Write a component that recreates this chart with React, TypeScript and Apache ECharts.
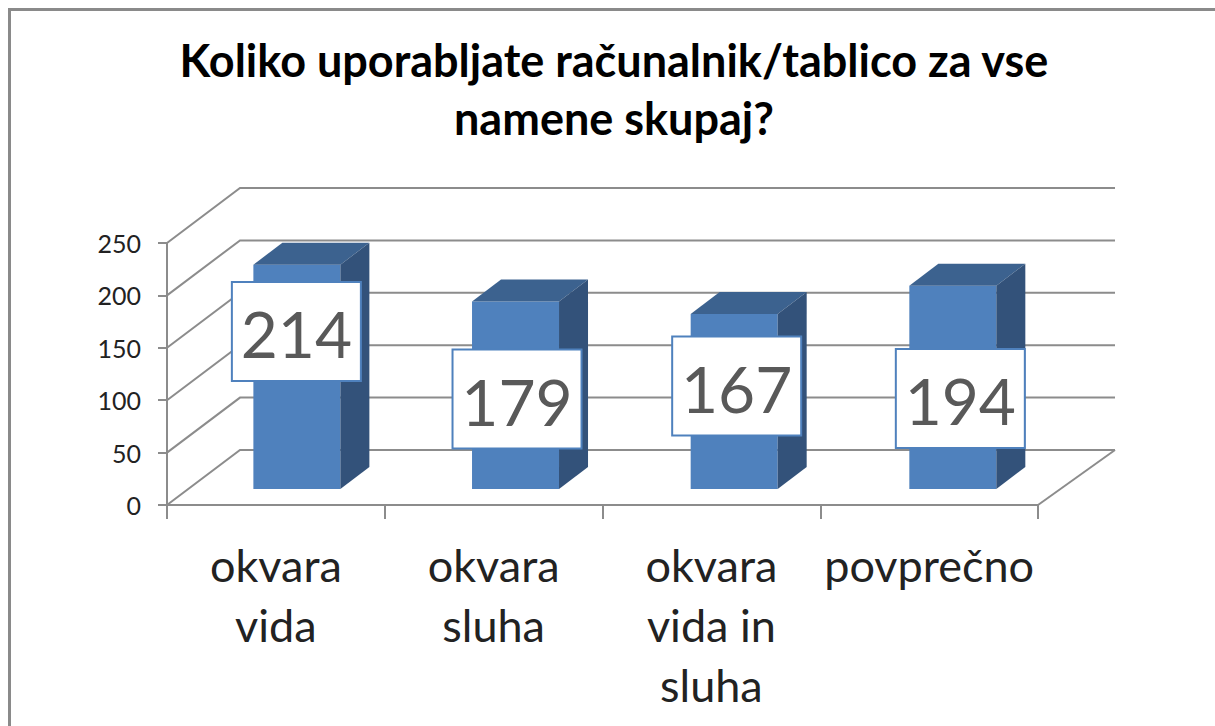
import React, { useEffect, useRef } from "react";
import * as echarts from "echarts";

const titleLines = ["Koliko uporabljate računalnik/tablico za vse", "namene skupaj?"];
const categories = ["okvara\nvida", "okvara\nsluha", "okvara\nvida in\nsluha", "povprečno"];
const values = [214, 179, 167, 194];
const yTicks = [0, 50, 100, 150, 200, 250];

// layout only: projection of the pseudo-3D box and hand-placed label boxes
const FLOOR_DX = 73;
const FLOOR_DY = -55;
const WALL_RIGHT_EXTRA = 4;
const BAR_W = 87;
const BAR_DX = 29;
const BAR_DY = -22;
const BAR_SHIFT_X = 21;
const BAR_SPREAD = 0.9;
const BAR_SHIFT_Y = -16;
const LABEL_W = 129;
const LABEL_H = 99;
const LABEL_DX = [-0.5, 1.5, 2.5, 7.5];
const LABEL_CENTER_Y = [331.5, 399, 386, 398.5];
const GRID_COLOR = "#8c8c8c";
const FONT = "Lato, Carlito, 'Open Sans', sans-serif";

export default function App() {
  const ref = useRef<HTMLDivElement>(null);
  useEffect(() => {
    document.body.style.margin = "0";
    const chart = echarts.init(ref.current!, undefined, { renderer: "svg" });
    chart.setOption({
      animation: false,
      backgroundColor: "#ffffff",
      title: {
        text: titleLines.join("\n"),
        left: 609,
        top: 26,
        textAlign: "center",
        textStyle: { fontFamily: FONT, fontWeight: "bold", fontSize: 45, color: "#000", lineHeight: 58 },
      },
      graphic: [
        {
          type: "polyline",
          silent: true,
          shape: { points: [[9.5, 726], [9.5, 9.5], [1215, 9.5]] },
          style: { stroke: "#8a8a8a", lineWidth: 3, fill: "none" },
        },
      ],
      grid: { left: 167, right: 177, top: 243, height: 262 },
      xAxis: {
        type: "category",
        data: categories,
        axisLine: { lineStyle: { color: GRID_COLOR, width: 2 } },
        axisTick: { show: true, length: 14, lineStyle: { color: GRID_COLOR, width: 2 } },
        axisLabel: { fontFamily: FONT, fontSize: 45, color: "#222", lineHeight: 60, margin: 30, interval: 0, verticalAlign: "top" },
      },
      yAxis: {
        type: "value",
        min: 0,
        max: 250,
        interval: 50,
        axisLine: { show: true, lineStyle: { color: GRID_COLOR, width: 2 } },
        axisTick: { show: true, length: 9, lineStyle: { color: GRID_COLOR, width: 2 } },
        axisLabel: { fontFamily: FONT, fontSize: 25, color: "#222", margin: 26 },
        splitLine: { show: false },
      },
      series: [
        {
          type: "custom",
          silent: true,
          z: 1,
          data: yTicks,
          renderItem: (params: any, api: any) => {
            const v = api.value(0);
            const y = api.coord([0, v])[1];
            const cs = params.coordSys;
            const x0 = cs.x;
            const x1 = cs.x + cs.width;
            const xBack = x1 + FLOOR_DX + WALL_RIGHT_EXTRA;
            const children: any[] = [
              {
                type: "polyline",
                shape: { points: [[x0, y], [x0 + FLOOR_DX, y + FLOOR_DY], [xBack, y + FLOOR_DY]] },
                style: { stroke: GRID_COLOR, lineWidth: 2, fill: "none" },
              },
            ];
            if (v === 0) {
              children.push({
                type: "line",
                shape: { x1, y1: y, x2: xBack, y2: y + FLOOR_DY },
                style: { stroke: GRID_COLOR, lineWidth: 2 },
              });
            }
            return { type: "group", children };
          },
          encode: { y: 0 },
        },
        {
          type: "custom",
          silent: true,
          z: 2,
          data: values.map((v, i) => [i, v]),
          encode: { x: 0, y: 1 },
          renderItem: (params: any, api: any) => {
            const i = api.value(0);
            const v = api.value(1);
            const top = api.coord([i, v]);
            const base = api.coord([i, 0]);
            const xL = top[0] + BAR_SHIFT_X + i * BAR_SPREAD - BAR_W / 2;
            const xR = xL + BAR_W;
            const yT = top[1] + BAR_SHIFT_Y;
            const yB = base[1] + BAR_SHIFT_Y;
            const lx = xL + BAR_W / 2 + LABEL_DX[i] - LABEL_W / 2;
            const ly = LABEL_CENTER_Y[i] - LABEL_H / 2;
            return {
              type: "group",
              children: [
                { type: "rect", shape: { x: xL, y: yT, width: BAR_W, height: yB - yT }, style: { fill: "#4f81bd" } },
                {
                  type: "polygon",
                  shape: { points: [[xL, yT], [xL + BAR_DX, yT + BAR_DY], [xR + BAR_DX, yT + BAR_DY], [xR, yT]] },
                  style: { fill: "#3c628f" },
                },
                {
                  type: "polygon",
                  shape: { points: [[xR, yT], [xR + BAR_DX, yT + BAR_DY], [xR + BAR_DX, yB + BAR_DY], [xR, yB]] },
                  style: { fill: "#33527a" },
                },
                {
                  type: "rect",
                  shape: { x: lx, y: ly, width: LABEL_W, height: LABEL_H },
                  style: { fill: "#fff", stroke: "#4f81bd", lineWidth: 2 },
                },
                {
                  type: "text",
                  style: {
                    x: lx + LABEL_W / 2,
                    y: ly + LABEL_H / 2 + 2,
                    text: String(v),
                    align: "center",
                    verticalAlign: "middle",
                    fontFamily: FONT,
                    fontSize: 64,
                    fill: "#595959",
                  },
                },
              ],
            };
          },
        },
      ],
    });
    return () => chart.dispose();
  }, []);
  return <div ref={ref} style={{ width: 1215, height: 726 }} />;
}
